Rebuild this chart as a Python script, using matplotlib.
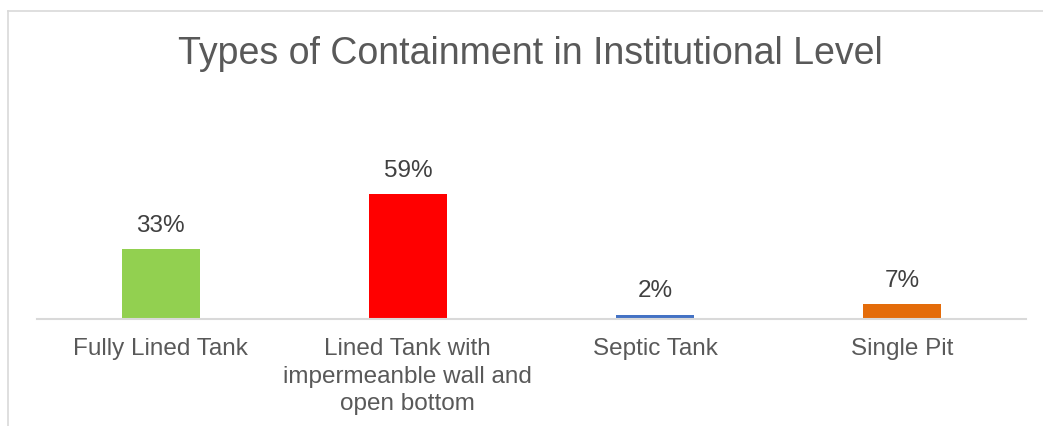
import matplotlib.pyplot as plt
from matplotlib.lines import Line2D

plt.rcParams['font.family'] = ['Liberation Sans', 'DejaVu Sans']

categories = ['Fully Lined Tank', 'Lined Tank with\nimpermeanble wall and\nopen bottom',
              'Septic Tank', 'Single Pit']
shares = [33, 59, 2, 7]
bar_colors = ['#92D050', '#FF0000', '#4472C4', '#E46C0A']

W, H = 1043, 426
fig = plt.figure(figsize=(W / 100, H / 100), dpi=100)

# chart frame (runs off the right and bottom edges)
frame = '#D9D9D9'
fig.add_artist(Line2D([8 / W, 8 / W], [0, 1 - 11 / H], color=frame, lw=1.2))
fig.add_artist(Line2D([8 / W, 1], [1 - 11 / H, 1 - 11 / H], color=frame, lw=1.2))

ax = fig.add_axes([37 / W, 107 / H, (1026 - 37) / W, 148 / H])
x = range(len(categories))
bars = ax.bar(x, shares, width=0.316, color=bar_colors)
ax.set_xlim(-0.5, len(categories) - 0.5)
ax.set_ylim(0, 70)

for b, v in zip(bars, shares):
    ax.annotate(f'{v}%', (b.get_x() + b.get_width() / 2, v), xytext=(0, 9),
                textcoords='offset points', ha='center', va='bottom',
                fontsize=17.5, color='#404040')

ax.set_xticks(list(x))
ax.set_xticklabels(categories, fontsize=17.5, color='#595959', linespacing=1.3)
ax.tick_params(axis='x', length=0, pad=14)
ax.set_yticks([])
for s in ['top', 'right', 'left']:
    ax.spines[s].set_visible(False)
ax.spines['bottom'].set_color(frame)
ax.spines['bottom'].set_linewidth(1.5)

fig.text(530 / W, 1 - 54 / H, 'Types of Containment in Institutional Level',
         ha='center', va='center', fontsize=27, color='#595959')

fig.savefig('out.png', dpi=100)
